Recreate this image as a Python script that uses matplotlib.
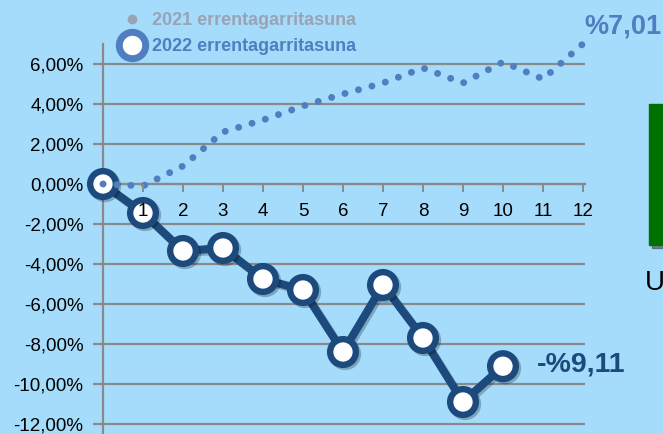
import numpy as np
import matplotlib
matplotlib.use('Agg')
from matplotlib import pyplot as plt
from matplotlib.lines import Line2D
from matplotlib.patches import Rectangle
import matplotlib.patheffects as pe

plt.rcParams['font.family'] = ['Liberation Sans', 'DejaVu Sans']

# data (percent)
months_2021 = np.arange(0, 13)
yield_2021 = [0.0, -0.1, 0.9, 2.6, 3.2, 3.9, 4.5, 5.05, 5.8, 5.05, 6.1, 5.25, 7.01]
months_2022 = np.arange(0, 11)
yield_2022 = [0.0, -1.45, -3.35, -3.2, -4.75, -5.3, -8.4, -5.05, -7.7, -10.9, -9.11]
yticks = np.arange(-12, 7, 2)
xticks = np.arange(1, 13)
label_2021 = '2021 errentagarritasuna'
label_2022 = '2022 errentagarritasuna'

bg = '#A6DCFB'
navy = '#1D4A7D'
blue21 = '#4F7FC0'
grey = '#8A8A8A'

fig = plt.figure(figsize=(6.63, 4.34), dpi=100)
fig.patch.set_facecolor(bg)
ax = fig.add_axes([103/663, 0, 482/663, 390/434])
ax.set_facecolor(bg)
ax.set_xlim(0, 12.05)
ax.set_ylim(-12.5, 7)

# grid
for yv in yticks:
    ax.axhline(yv, color=grey, lw=1.6, zorder=1)
ax.set_yticks(yticks)
ax.set_yticklabels([('%.2f' % v).replace('.', ',') + '%' for v in yticks])
ax.tick_params(axis='y', length=7, width=1.6, color=grey, labelsize=13.5, pad=7)
ax.set_xticks(xticks)
ax.set_xticklabels([str(v) for v in xticks])
ax.tick_params(axis='x', length=6, width=1.4, color=grey, labelsize=13.5, pad=8)
ax.xaxis.set_zorder(6)
for s in ['top', 'right']:
    ax.spines[s].set_visible(False)
ax.spines['bottom'].set_position(('data', 0))
ax.spines['bottom'].set_color(grey)
ax.spines['bottom'].set_linewidth(1.6)
ax.spines['left'].set_color(grey)
ax.spines['left'].set_linewidth(1.6)

# 2022 line
ax.plot(months_2022, yield_2022, color=navy, lw=5.8, marker='o', ms=18.5,
        mfc='white', mec=navy, mew=4.6, zorder=4, clip_on=False,
        path_effects=[pe.SimpleLineShadow(offset=(1.5, -1.5), shadow_color='k', alpha=0.25),
                      pe.Normal()])
# 2021 dotted
ax.plot(months_2021, yield_2021, color=blue21, lw=5,
        linestyle=(0, (0.01, 2.0)), dash_capstyle='round', zorder=5, clip_on=False)

ax.text(12.03, 7.9, '%' + ('%.2f' % yield_2021[-1]).replace('.', ','),
        color=blue21, fontsize=19.5, fontweight='bold', ha='left', va='center',
        clip_on=False)
ax.text(10.85, yield_2022[-1] + 0.1, '-%' + ('%.2f' % -yield_2022[-1]).replace('.', ','),
        color=navy, fontsize=20.5, fontweight='bold', ha='left', va='center')

handles = [Line2D([], [], ls='none', marker='o', ms=6, color='#9AA3B5'),
           Line2D([], [], ls='none', marker='o', ms=19, mfc='white', mec=blue21, mew=5)]
leg = fig.legend(handles, [label_2021, label_2022], loc='upper left',
                 bbox_to_anchor=(105/663, 1.01), frameon=False,
                 prop={'weight': 'bold', 'size': 13}, handletextpad=0.5,
                 labelspacing=0.5, handlelength=1.2,
                 labelcolor=['#9AA3B5', blue21])

# cropped panel on the right
fig.patches.append(Rectangle((652/663, 1 - 248/434), 20/663, 141/434,
                             transform=fig.transFigure, color='#333333', alpha=0.5))
fig.patches.append(Rectangle((649/663, 1 - 245/434), 20/663, 141/434,
                             transform=fig.transFigure, color='#007000'))
fig.text(645/663, 1 - 283/434, 'U', fontsize=20, va='center', ha='left')

fig.savefig('out.png', dpi=100, facecolor=bg)
